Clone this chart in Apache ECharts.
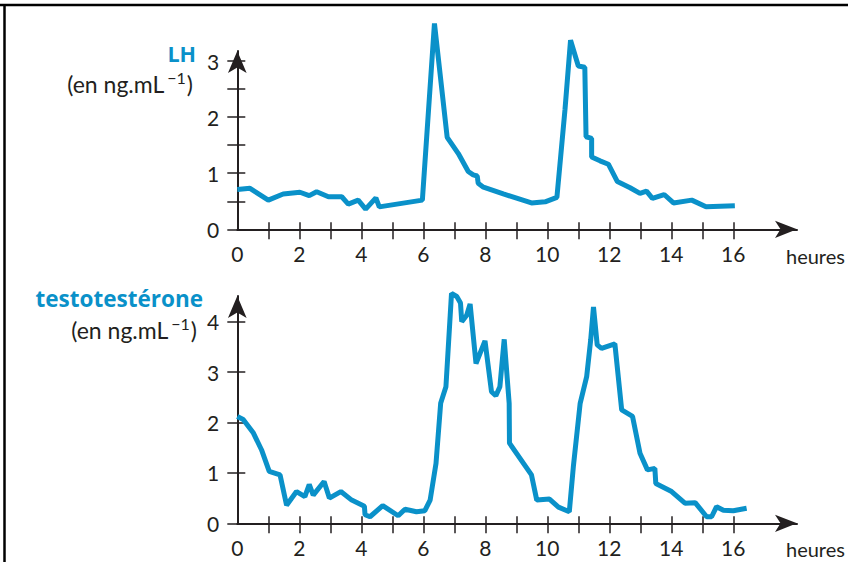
<!DOCTYPE html>
<html><head><meta charset="utf-8">
<script src="https://cdn.jsdelivr.net/npm/echarts@6/dist/echarts.min.js"></script>
<style>html,body{margin:0;padding:0;background:#fff}#c{width:848px;height:562px}</style>
</head><body><div id="c"></div>
<script>
// ---- data ----
const lhHours  = [0, 0.41, 1.0, 1.48, 2.02, 2.32, 2.56, 2.94, 3.37, 3.58, 3.9, 4.14, 4.47, 4.58, 5.97, 6.36, 6.77, 7.13, 7.45, 7.61, 7.74, 7.77, 7.94, 8.58, 9.49, 9.93, 10.31, 10.43, 10.57, 10.75, 11.0, 11.21, 11.25, 11.43, 11.43, 11.70, 11.97, 12.26, 12.67, 12.99, 13.2, 13.39, 13.77, 14.07, 14.66, 15.12, 16.05];
const lhValues = [0.71, 0.73, 0.52, 0.63, 0.66, 0.60, 0.67, 0.58, 0.58, 0.45, 0.52, 0.36, 0.56, 0.40, 0.52, 3.67, 1.64, 1.35, 1.03, 0.97, 0.95, 0.82, 0.75, 0.63, 0.47, 0.49, 0.57, 1.29, 2.13, 3.37, 2.91, 2.89, 1.65, 1.62, 1.29, 1.22, 1.16, 0.85, 0.74, 0.64, 0.68, 0.55, 0.62, 0.47, 0.52, 0.40, 0.42];

const testoHours  = [0, 0.19, 0.52, 0.78, 1.03, 1.38, 1.59, 1.91, 2.18, 2.32, 2.45, 2.80, 2.97, 3.34, 3.69, 4.10, 4.12, 4.28, 4.69, 5.19, 5.41, 5.78, 6.05, 6.22, 6.41, 6.56, 6.73, 6.91, 7.08, 7.20, 7.24, 7.40, 7.51, 7.70, 7.99, 8.20, 8.34, 8.47, 8.61, 8.77, 8.78, 9.49, 9.66, 10.07, 10.36, 10.71, 10.84, 11.06, 11.27, 11.40, 11.49, 11.61, 11.75, 12.18, 12.40, 12.75, 12.99, 13.23, 13.47, 13.50, 14.01, 14.44, 14.77, 15.14, 15.30, 15.46, 15.68, 16.0, 16.43];
const testoValues = [2.12, 2.06, 1.79, 1.46, 1.03, 0.96, 0.36, 0.63, 0.53, 0.77, 0.56, 0.83, 0.50, 0.63, 0.46, 0.34, 0.17, 0.13, 0.35, 0.15, 0.28, 0.23, 0.25, 0.46, 1.19, 2.38, 2.71, 4.56, 4.50, 4.37, 4.0, 4.13, 4.35, 3.17, 3.62, 2.61, 2.53, 2.71, 3.65, 2.38, 1.59, 0.96, 0.46, 0.48, 0.32, 0.23, 1.12, 2.38, 2.91, 3.64, 4.29, 3.54, 3.47, 3.56, 2.25, 2.12, 1.39, 1.06, 1.09, 0.79, 0.63, 0.40, 0.41, 0.13, 0.13, 0.33, 0.26, 0.25, 0.30];

const xTickValues  = [1,2,3,4,5,6,7,8,9,10,11,12,13,14,15,16];
const xLabelValues = [0,2,4,6,8,10,12,14,16];
const lhYTicks     = [0,0.5,1,1.5,2,2.5,3];
const lhYLabels    = [0,1,2,3];
const testoYTicks  = [0,1,2,3,4];
const testoYLabels = [0,1,2,3,4];

const xAxisTitle = 'heures';
const lhTitle = 'LH';
const testoTitle = 'testotestérone';
const unitText = '{a|(en ng.mL}{s|−1}{a|)}';

// ---- style / layout ----
const BLUE = '#0a91c9';
const INK = '#231f20';
const FONT = 'Lato';
const TFONT = '"Open Sans"';
const PXH = 31.0;
const GL = 237.3;
const GW = 559.7;
const XMAX = GW / PXH;
const G1 = {top: 51, height: 178.3}, G1PX = 56.1;
const G2 = {top: 296, height: 227.3}, G2PX = 50.4;

function xAxes(gi) {
  const base = {gridIndex: gi, type: 'value', min: 0, max: XMAX, position: 'bottom', splitLine: {show: false}};
  return [
    Object.assign({}, base, {
      axisLine: {show: true, onZero: false, symbol: ['none', 'arrow'], symbolSize: [13, 22], lineStyle: {color: INK, width: 2}},
      axisTick: {show: true, customValues: xTickValues, length: 10, lineStyle: {color: INK, width: 1.5}},
      axisLabel: {customValues: xLabelValues, margin: 14, fontSize: 21, color: INK, fontFamily: FONT}
    }),
    Object.assign({}, base, {
      axisLine: {show: false, onZero: false},
      axisTick: {show: true, inside: true, customValues: xTickValues, length: 7, lineStyle: {color: INK, width: 1.5}},
      axisLabel: {show: false}
    })
  ];
}
function yAxes(gi, max, ticks, labels) {
  const base = {gridIndex: gi, type: 'value', min: 0, max: max, position: 'left', splitLine: {show: false}};
  return [
    Object.assign({}, base, {
      axisLine: {show: true, onZero: false, symbol: ['none', 'arrow'], symbolSize: [14, 22], lineStyle: {color: INK, width: 2}},
      axisTick: {show: true, customValues: ticks, length: 10, lineStyle: {color: INK, width: 1.5}},
      axisLabel: {customValues: labels, margin: 18, fontSize: 21, color: INK, fontFamily: FONT}
    }),
    Object.assign({}, base, {
      axisLine: {show: false, onZero: false},
      axisTick: {show: true, inside: true, customValues: ticks, length: 8, lineStyle: {color: INK, width: 1.5}},
      axisLabel: {show: false}
    })
  ];
}
function pairs(xs, ys) { return xs.map((x, i) => [x, ys[i]]); }
function unitLabel(x, y) {
  return {type: 'text', x: x, y: y, style: {text: unitText, align: 'right', verticalAlign: 'middle', fill: INK,
    rich: {
      a: {fontSize: 23, fontFamily: FONT, fill: INK, verticalAlign: 'bottom'},
      s: {fontSize: 16, fontFamily: FONT, fill: INK, verticalAlign: 'top', padding: [0, 1, 10, 3]}
    }}};
}
function titleLabel(text, x, y, size) {
  return {type: 'text', x: x, y: y, style: {text: text, align: 'right', verticalAlign: 'middle', fill: BLUE,
    fontWeight: 'bold', fontSize: size, fontFamily: TFONT, lineHeight: 18}};
}

const chart = echarts.init(document.getElementById('c'), null, {renderer: 'svg'});
chart.setOption({
  animation: false,
  backgroundColor: '#fff',
  grid: [
    {left: GL, top: G1.top, width: GW, height: G1.height},
    {left: GL, top: G2.top, width: GW, height: G2.height}
  ],
  xAxis: xAxes(0).concat(xAxes(1)),
  yAxis: yAxes(0, G1.height / G1PX, lhYTicks, lhYLabels).concat(yAxes(1, G2.height / G2PX, testoYTicks, testoYLabels)),
  series: [
    {type: 'line', xAxisIndex: 0, yAxisIndex: 0, data: pairs(lhHours, lhValues), showSymbol: false, clip: false,
     lineStyle: {color: BLUE, width: 5}, z: 1},
    {type: 'line', xAxisIndex: 2, yAxisIndex: 2, data: pairs(testoHours, testoValues), showSymbol: false, clip: false,
     lineStyle: {color: BLUE, width: 5}, z: 1}
  ],
  graphic: [
    {type: 'line', shape: {x1: 0, y1: 5, x2: 848, y2: 5}, style: {stroke: '#000', lineWidth: 2.5}},
    {type: 'line', shape: {x1: 4.5, y1: 4, x2: 4.5, y2: 562}, style: {stroke: '#000', lineWidth: 2.5}},
    titleLabel(lhTitle, 196, 53, 21.5),
    unitLabel(193, 82),
    titleLabel(testoTitle, 203, 298, 22.5),
    unitLabel(197, 328),
    {type: 'text', x: 786, y: 256, style: {text: xAxisTitle, align: 'left', verticalAlign: 'middle', fill: INK, fontSize: 20, fontFamily: FONT}},
    {type: 'text', x: 786, y: 549, style: {text: xAxisTitle, align: 'left', verticalAlign: 'middle', fill: INK, fontSize: 20, fontFamily: FONT}}
  ]
});
</script></body></html>
